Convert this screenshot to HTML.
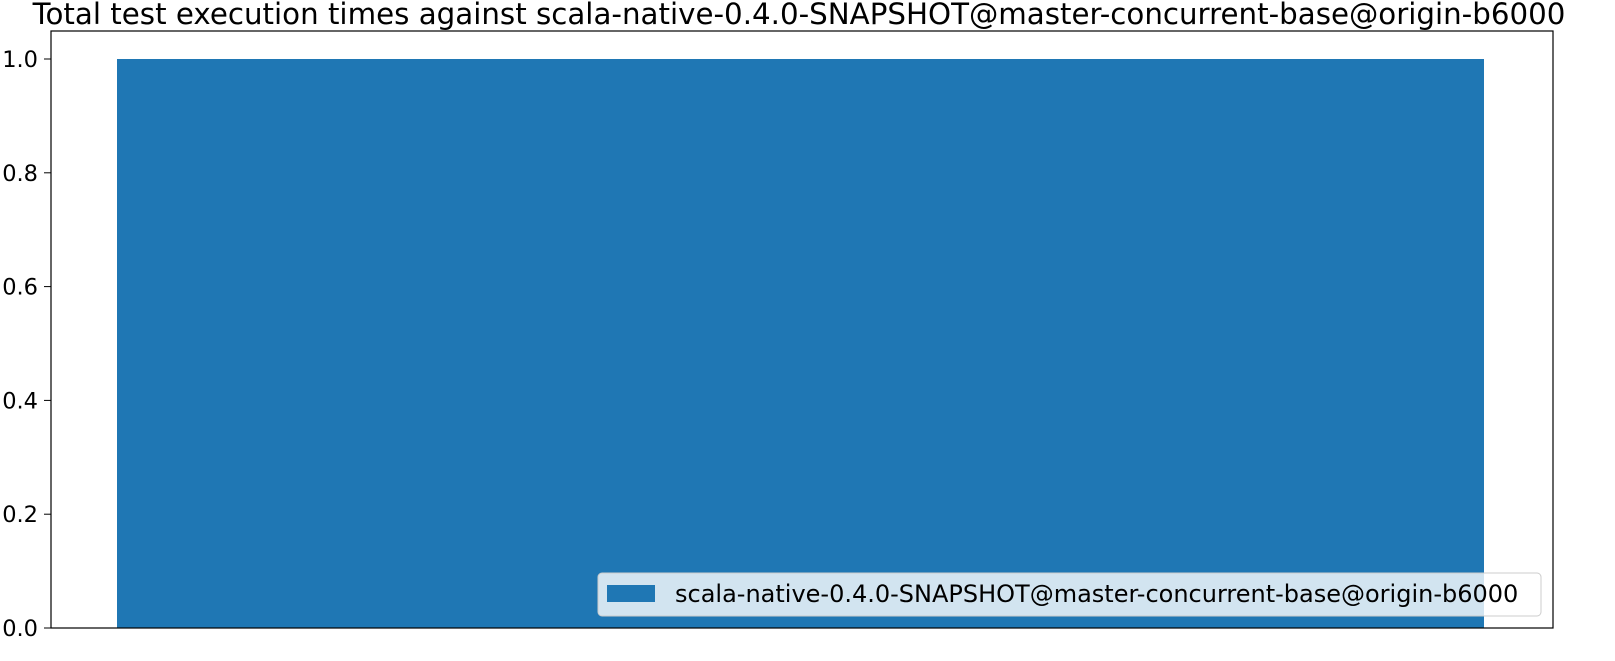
<!DOCTYPE html>
<html><head><meta charset="utf-8"><style>
body{margin:0;background:#fff;}
svg{display:block;font-family:"DejaVu Sans","Liberation Sans",sans-serif;}
</style></head><body>
<svg id="c" width="1615" height="661">
<text x="799" y="24" font-size="29.3" text-anchor="middle">Total test execution times against scala-native-0.4.0-SNAPSHOT@master-concurrent-base@origin-b6000</text>
<g id="bars"></g>
<g id="yticks"></g>
<rect x="51" y="31" width="1502" height="597" fill="none" stroke="#000" stroke-width="1.2"/>
<g>
<rect x="598" y="573" width="943" height="43" rx="4" fill="#fff" fill-opacity="0.8" stroke="#ccc"/>
<rect x="607" y="585" width="48" height="17" fill="#1f77b4"/>
<text x="675" y="602" font-size="24">scala-native-0.4.0-SNAPSHOT@master-concurrent-base@origin-b6000</text>
</g>
</svg>
<script>
const categories=["scala-native-0.4.0-SNAPSHOT@master-concurrent-base@origin-b6000"];
const values=[1.0];
const yTicks=[0,0.2,0.4,0.6,0.8,1.0];
const yTickLabels=["0.0","0.2","0.4","0.6","0.8","1.0"];
const NS="http://www.w3.org/2000/svg";
const y0=628,yPerUnit=569;
function yScale(v){return y0-v*yPerUnit;}
const bars=document.getElementById('bars');
const bx0=117,bw=1367;
values.forEach((v,i)=>{
 const r=document.createElementNS(NS,'rect');
 r.setAttribute('x',bx0+i*bw);r.setAttribute('width',bw);
 r.setAttribute('y',yScale(v));r.setAttribute('height',y0-yScale(v));
 r.setAttribute('fill','#1f77b4');
 
 
 bars.appendChild(r);
});
const yt=document.getElementById('yticks');
yTicks.forEach((t,i)=>{
 const y=yScale(t);
 const l=document.createElementNS(NS,'line');
 l.setAttribute('x1',44);l.setAttribute('x2',51);l.setAttribute('y1',y);l.setAttribute('y2',y);
 l.setAttribute('stroke','#000');
 
 
 yt.appendChild(l);
 const tx=document.createElementNS(NS,'text');
 tx.setAttribute('x',38);tx.setAttribute('y',y+8);tx.setAttribute('text-anchor','end');tx.setAttribute('font-size','22.5');
 tx.textContent=yTickLabels[i];
 
 
 yt.appendChild(tx);
});
</script>
</body></html>
